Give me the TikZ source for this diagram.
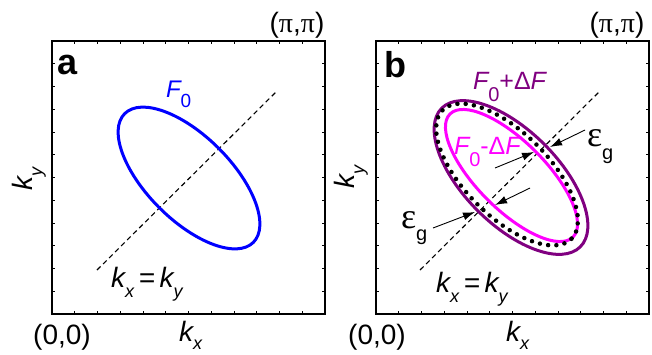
\documentclass[tikz,border=0pt]{standalone}
\usepackage{fontspec}
\setmainfont{Liberation Serif}
\newfontfamily\arialf{Liberation Sans}
\usetikzlibrary{arrows.meta}
\newcommand{\fsz}[1]{\fontsize{#1}{#1}\selectfont}
\newcommand{\lowsub}[3]{\raisebox{-#2pt}{\fsz{#1}#3}}
\newcommand{\spi}{{\rmfamily π}}
\definecolor{fspurple}{RGB}{128,0,128}
\definecolor{fsmagenta}{RGB}{255,0,255}
\definecolor{fsblue}{RGB}{0,0,255}
\tikzset{
  frame/.style={line width=2pt},
  tickmark/.style={line width=0.9pt},
  diagline/.style={line width=1.1pt, dash pattern=on 5pt off 3.5pt},
  gaparrow/.style={line width=0.9pt, -{Latex[length=12pt,width=8pt]}},
  lbl/.style={inner sep=0pt, outer sep=0pt},
  kfont/.style={font=\arialf\itshape\fsz{28}},
  corner/.style={inner sep=0pt, font=\arialf\fsz{28}},
  panel/.style={inner sep=0pt, font=\arialf\bfseries\fsz{36}},
  fermi/.style={line width=3pt},
  dotted ring/.style={line width=4.5pt, line cap=round, dash pattern=on 0pt off 8.3pt}
}
\begin{document}
\begin{tikzpicture}[x=1pt,y=-1pt]
\useasboundingbox (0,0) rectangle (652,354);

% ---------- panel a ----------
\draw[frame] (52,41) rectangle (325,314);
\foreach \i in {1,...,11}{
  \draw[tickmark] ({52+\i*22.75},41) -- ++(0,3);
  \draw[tickmark] ({52+\i*22.75},314) -- ++(0,-3);
  \draw[tickmark] (52,{41+\i*22.75}) -- ++(3,0);
  \draw[tickmark] (325,{41+\i*22.75}) -- ++(-3,0);
}
\coordinate (a1) at (97,270);
\coordinate (a2) at (277,91);
\draw[diagline] (a1) -- (a2);
\draw[fermi, fsblue, rotate around={-45:(189,178)}] (189,178) ellipse [x radius=91, y radius=42];

\node[panel, anchor=base west] (pa) at (57,74) {a};
\node[lbl, anchor=base west, text=fsblue, font=\arialf\itshape\fsz{24}] (fa) at (166,97) {F\lowsub{19}{10}{\upshape 0}};
\node[lbl, kfont, anchor=base west] (eqa) at (111,287) {k\lowsub{18}{10}{x}\,=\,k\lowsub{18}{10}{y}};
\node[lbl, kfont, anchor=base west] (kxa) at (179,341) {k\lowsub{18}{8}{x}};
\node[lbl, kfont, anchor=base west, rotate=90] (kya) at (32,190) {k\lowsub{18}{10}{y}};
\node[corner] (ppa) at (297,25) {(\spi,\spi)};
\node[corner] (zza) at (62,337) {(0,0)};

% ---------- panel b ----------
\draw[frame] (376,41) rectangle (649,314);
\foreach \i in {1,...,11}{
  \draw[tickmark] ({376+\i*22.75},41) -- ++(0,3);
  \draw[tickmark] ({376+\i*22.75},314) -- ++(0,-3);
  \draw[tickmark] (376,{41+\i*22.75}) -- ++(3,0);
  \draw[tickmark] (649,{41+\i*22.75}) -- ++(-3,0);
}
\coordinate (b1) at (420,270);
\coordinate (b2) at (600,91);
\draw[diagline] (b1) -- (b2);
\draw[fermi, fspurple, rotate around={-45:(511,177.5)}] (511,177.5) ellipse [x radius=98, y radius=47];
\draw[fermi, fsmagenta, rotate around={-45:(511.5,175.5)}] (511.5,175.5) ellipse [x radius=87, y radius=34];
\draw[dotted ring, black, rotate around={-45:(507,174.5)}] (507,174.5) ellipse [x radius=91, y radius=42];

\coordinate (g1s) at (585,130); \coordinate (g1e) at (550,147);
\coordinate (g2s) at (495,168); \coordinate (g2e) at (534,152);
\coordinate (g3s) at (530,188); \coordinate (g3e) at (495,205);
\coordinate (g4s) at (433,228); \coordinate (g4e) at (475,212);
\draw[gaparrow] (g1s) -- (g1e);
\draw[gaparrow] (g2s) -- (g2e);
\draw[gaparrow] (g3s) -- (g3e);
\draw[gaparrow] (g4s) -- (g4e);

\node[panel, anchor=base west] (pb) at (384,77) {b};
\node[lbl, anchor=base west, text=fspurple, font=\arialf\itshape\fsz{25}] (fpb) at (473,89) {F\lowsub{20}{12}{\upshape 0}{\upshape +Δ}F};
\node[lbl, anchor=base west, text=fsmagenta, font=\arialf\itshape\fsz{25}] (fmb) at (454,154) {F\lowsub{20}{12}{\upshape 0}{\upshape -Δ}F};
\node[lbl, anchor=base west, font=\fsz{36}] (eg1) at (587,146) {ε\lowsub{20}{13}{\arialf g}};
\node[lbl, anchor=base west, font=\fsz{36}] (eg2) at (401,228) {ε\lowsub{20}{12}{\arialf g}};
\node[lbl, kfont, anchor=base west] (eqb) at (436,292) {k\lowsub{18}{10}{x}\,=\,k\lowsub{18}{10}{y}};
\node[lbl, kfont, anchor=base west] (kxb) at (506,341) {k\lowsub{18}{8}{x}};
\node[lbl, kfont, anchor=base west, rotate=90] (kyb) at (354,188) {k\lowsub{18}{10}{y}};
\node[corner] (ppb) at (617,25) {(\spi,\spi)};
\node[corner] (zzb) at (377,337) {(0,0)};
\end{tikzpicture}
\end{document}
